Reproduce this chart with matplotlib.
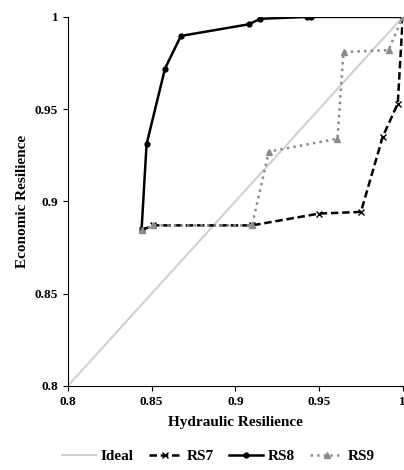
import matplotlib
matplotlib.use('Agg')
import matplotlib.pyplot as plt

plt.rcParams['font.family'] = ['Liberation Serif', 'DejaVu Serif']

ideal_x = [0.8, 1.0]
ideal_y = [0.8, 1.0]

rs7_x = [0.844, 0.851, 0.910, 0.950, 0.975, 0.988, 0.997, 1.0]
rs7_y = [0.8845, 0.887, 0.887, 0.8934, 0.8943, 0.935, 0.953, 1.0]

rs8_x = [0.844, 0.847, 0.858, 0.8675, 0.908, 0.915, 0.943, 0.945, 1.0]
rs8_y = [0.8845, 0.931, 0.972, 0.9897, 0.996, 0.999, 1.0, 1.0, 1.0]

rs9_x = [0.844, 0.851, 0.910, 0.920, 0.961, 0.9646, 0.9915, 1.0]
rs9_y = [0.8845, 0.887, 0.887, 0.927, 0.934, 0.981, 0.982, 1.0]

fig = plt.figure(figsize=(4.04, 4.70), dpi=100)
ax = fig.add_axes([0.168, 0.179, 0.829, 0.785])

ax.plot(ideal_x, ideal_y, color='#d0d0d0', lw=1.5, label='Ideal')
ax.plot(rs7_x, rs7_y, color='black', lw=1.8, ls=(0, (3, 1.5)), marker='x', ms=4, label='RS7')
ax.plot(rs8_x, rs8_y, color='black', lw=1.8, marker='o', ms=3.5, label='RS8')
ax.plot(rs9_x, rs9_y, color='#8c8c8c', lw=1.8, ls=':', marker='^', ms=4, label='RS9')

ax.set_xlim(0.8, 1.0)
ax.set_ylim(0.8, 1.0)
ax.set_xticks([0.8, 0.85, 0.9, 0.95, 1.0])
ax.set_xticklabels(['0.8', '0.85', '0.9', '0.95', '1'])
ax.set_yticks([0.8, 0.85, 0.9, 0.95, 1.0])
ax.set_yticklabels(['0.8', '0.85', '0.9', '0.95', '1'])
for lab in ax.get_xticklabels() + ax.get_yticklabels():
    lab.set_fontweight('bold')
    lab.set_fontsize(9.5)
ax.set_xlabel('Hydraulic Resilience', fontsize=11, fontweight='bold', labelpad=6)
ax.set_ylabel('Economic Resilience', fontsize=11, fontweight='bold')
for s in ['top', 'right']:
    ax.spines[s].set_visible(False)

ax.legend(loc='upper center', bbox_to_anchor=(0.45, -0.135), ncol=4, frameon=False,
          prop={'weight': 'bold', 'size': 11}, handlelength=2.2, columnspacing=1.0, handletextpad=0.3)

fig.savefig('out.png', dpi=100, facecolor='white')
